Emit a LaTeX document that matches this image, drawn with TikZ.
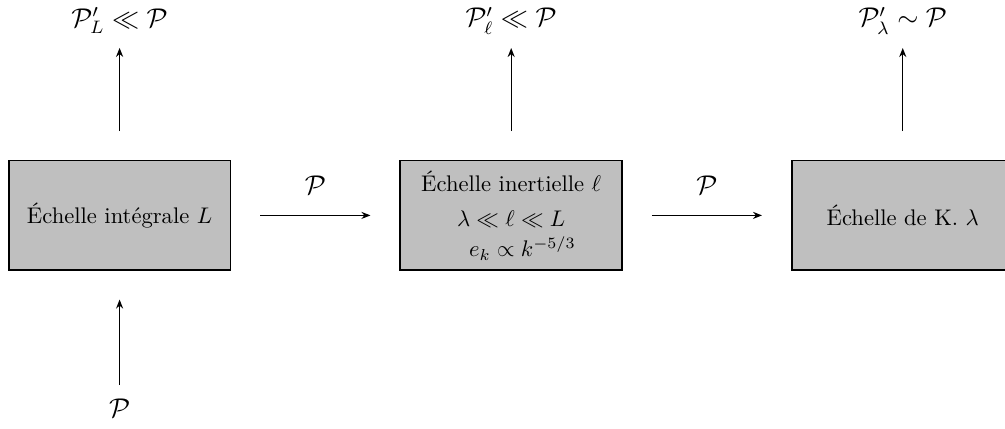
\documentclass[tikz,border=0pt]{standalone}
\usepackage{amsmath}
\usepackage{amssymb}
\usepackage{tikz}
\usetikzlibrary{arrows.meta,positioning}
\tikzset{
  scalebox/.style={draw=black,line width=0.8pt,fill=lightgray,minimum width=3.45cm,minimum height=1.71cm,
    align=center,inner sep=2pt},
  flow/.style={-{Stealth[length=1.4mm,width=1.1mm]},line width=0.6pt},
  budget/.style={inner sep=2pt,font=\large},
}

\begin{document}
\begin{tikzpicture}[x=1cm,y=1cm]
    \useasboundingbox (0,0) rectangle (15.63,6.66);
    % the three scales
    \node[scalebox] (integ) at (1.86,3.31) {\'Echelle int\'egrale $L$};
    \node[scalebox] (inert) at (7.95,3.31) {\'Echelle inertielle $\ell$\\[3.5pt]
      $\lambda \ll \ell \ll L$\\[1.5pt] \hspace*{10pt}$e_k \propto k^{-5/3}$};
    \node[scalebox] (kolmo) at (14.04,3.31) {\'Echelle de K. $\lambda$};

    % energy flux between scales
    \draw[flow,shorten <=4.5mm,shorten >=4.5mm] (integ) -- node[above=2mm,font=\large] {$\mathcal{P}$} (inert);
    \draw[flow,shorten <=4.5mm,shorten >=4.5mm] (inert) -- node[above=2mm,font=\large] {$\mathcal{P}$} (kolmo);

    % injection and losses
    \node[budget] (inP) at (1.86,0.31) {$\mathcal{P}$};
    \node[budget] (outL) at (1.86,6.34) {$\mathcal{P}'_L \ll \mathcal{P}$};
    \node[budget] (outl) at (7.95,6.34) {$\mathcal{P}'_\ell \ll \mathcal{P}$};
    \node[budget] (outk) at (14.04,6.34) {$\mathcal{P}'_\lambda \sim \mathcal{P}$};
    \draw[flow,shorten <=1.4mm,shorten >=4.4mm] (inP) -- (integ);
    \draw[flow,shorten <=4.4mm,shorten >=1.4mm] (integ) -- (outL);
    \draw[flow,shorten <=4.4mm,shorten >=1.4mm] (inert) -- (outl);
    \draw[flow,shorten <=4.4mm,shorten >=1.4mm] (kolmo) -- (outk);
\end{tikzpicture}
\end{document}
